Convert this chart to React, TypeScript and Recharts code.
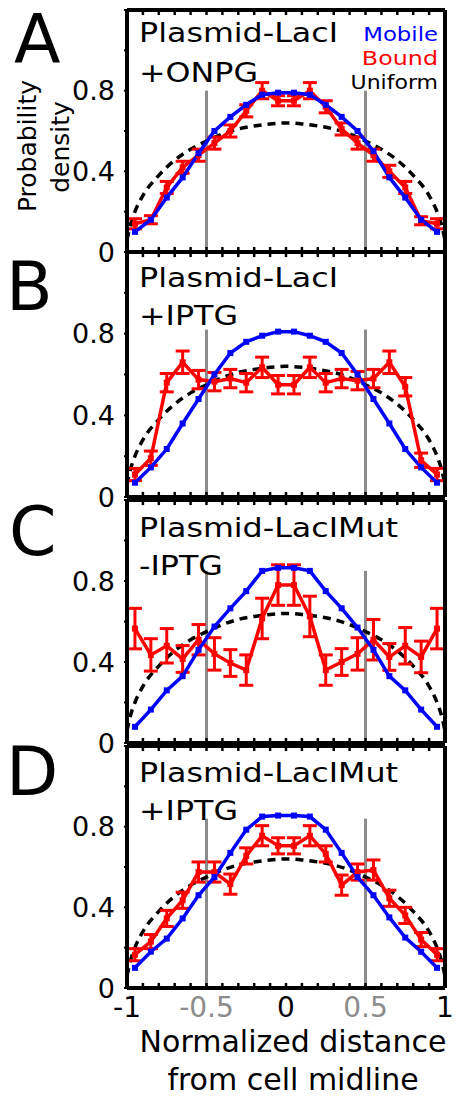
import React from 'react';
import { ComposedChart, Line, XAxis, YAxis, ErrorBar, ReferenceLine } from 'recharts';

const FONT = '"DejaVu Sans", Verdana, sans-serif';

// bin centres along the normalized cell axis
const positions = [-0.95, -0.85, -0.75, -0.65, -0.55, -0.45, -0.35, -0.25, -0.15, -0.05, 0.05, 0.15, 0.25, 0.35, 0.45, 0.55, 0.65, 0.75, 0.85, 0.95];

// A: Plasmid-LacI +ONPG
const mobileA = [0.10, 0.16, 0.27, 0.37, 0.49, 0.60, 0.67, 0.73, 0.78, 0.79, 0.79, 0.78, 0.73, 0.67, 0.60, 0.50, 0.37, 0.27, 0.16, 0.10];
const boundA = [0.14, 0.16, 0.32, 0.42, 0.48, 0.54, 0.60, 0.70, 0.80, 0.75, 0.75, 0.80, 0.72, 0.61, 0.54, 0.48, 0.40, 0.32, 0.155, 0.14];
const errA = [0.025, 0.02, 0.03, 0.03, 0.03, 0.03, 0.03, 0.03, 0.04, 0.025, 0.025, 0.04, 0.03, 0.03, 0.03, 0.03, 0.03, 0.03, 0.02, 0.025];

// B: Plasmid-LacI +IPTG
const mobileB = [0.07, 0.145, 0.235, 0.36, 0.48, 0.60, 0.705, 0.76, 0.79, 0.81, 0.81, 0.79, 0.76, 0.705, 0.60, 0.48, 0.36, 0.235, 0.145, 0.07];
const boundB = [0.11, 0.19, 0.56, 0.66, 0.575, 0.565, 0.58, 0.56, 0.635, 0.55, 0.55, 0.635, 0.56, 0.58, 0.57, 0.58, 0.66, 0.54, 0.18, 0.11];
const errB = [0.03, 0.035, 0.045, 0.055, 0.045, 0.045, 0.045, 0.045, 0.05, 0.045, 0.045, 0.05, 0.045, 0.045, 0.045, 0.045, 0.055, 0.045, 0.035, 0.03];

// C: Plasmid-LacIMut -IPTG
const mobileC = [0.08, 0.165, 0.26, 0.33, 0.46, 0.575, 0.665, 0.75, 0.85, 0.865, 0.865, 0.85, 0.75, 0.665, 0.57, 0.46, 0.33, 0.26, 0.165, 0.08];
const boundC = [0.565, 0.435, 0.48, 0.415, 0.51, 0.44, 0.395, 0.36, 0.615, 0.78, 0.78, 0.625, 0.36, 0.40, 0.44, 0.51, 0.425, 0.48, 0.425, 0.565];
const errC = [0.1, 0.08, 0.085, 0.066, 0.075, 0.08, 0.066, 0.075, 0.1, 0.1, 0.1, 0.1, 0.075, 0.066, 0.08, 0.1, 0.066, 0.09, 0.078, 0.1];

// D: Plasmid-LacIMut +IPTG
const mobileD = [0.10, 0.18, 0.245, 0.345, 0.46, 0.55, 0.67, 0.785, 0.85, 0.855, 0.855, 0.85, 0.785, 0.67, 0.55, 0.46, 0.35, 0.25, 0.18, 0.10];
const boundD = [0.165, 0.23, 0.345, 0.435, 0.575, 0.575, 0.515, 0.655, 0.755, 0.705, 0.705, 0.755, 0.665, 0.51, 0.575, 0.585, 0.445, 0.36, 0.24, 0.165];
const errD = [0.03, 0.035, 0.04, 0.04, 0.05, 0.05, 0.05, 0.04, 0.05, 0.04, 0.04, 0.05, 0.04, 0.05, 0.04, 0.05, 0.04, 0.04, 0.035, 0.03];

// uniform reference curve (same in every panel)
const uniformX = [-1, -0.98, -0.95, -0.9, -0.8, -0.7, -0.6, -0.5, -0.4, -0.3, -0.2, -0.1, 0, 0.1, 0.2, 0.3, 0.4, 0.5, 0.6, 0.7, 0.8, 0.9, 0.95, 0.98, 1];
const uniformY = [0.06, 0.13, 0.2, 0.28, 0.38, 0.455, 0.51, 0.55, 0.585, 0.61, 0.625, 0.635, 0.64, 0.635, 0.625, 0.61, 0.585, 0.55, 0.51, 0.455, 0.38, 0.28, 0.2, 0.13, 0.06];

// grey guide lines at +-0.5, height per panel
const guideX = [-0.5, 0.5];
const guideTops = [0.8, 0.82, 0.85, 0.84];

const xTicks = [-1, -0.9, -0.8, -0.7, -0.6, -0.5, -0.4, -0.3, -0.2, -0.1, 0, 0.1, 0.2, 0.3, 0.4, 0.5, 0.6, 0.7, 0.8, 0.9, 1];
const xLabels = [-1, -0.5, 0, 0.5, 1];
const yTicks = [0, 0.2, 0.4, 0.6, 0.8, 1, 1.2];
const yLabels = [0, 0.4, 0.8];

const panelLetters = ['A', 'B', 'C', 'D'];
const panelNotes = [
  ['Plasmid-LacI', '+ONPG'],
  ['Plasmid-LacI', '+IPTG'],
  ['Plasmid-LacIMut', '-IPTG'],
  ['Plasmid-LacIMut', '+IPTG'],
];
const legendItems = ['Mobile', 'Bound', 'Uniform'];

const panels = [
  { top: 10, bottom: 252, mobile: mobileA, bound: boundA, err: errA, guide: guideTops[0] },
  { top: 252, bottom: 497, mobile: mobileB, bound: boundB, err: errB, guide: guideTops[1] },
  { top: 500, bottom: 743, mobile: mobileC, bound: boundC, err: errC, guide: guideTops[2] },
  { top: 746, bottom: 988, mobile: mobileD, bound: boundD, err: errD, guide: guideTops[3] },
];

const frame = { stroke: '#000', strokeWidth: 4 };
const tickLn = { stroke: '#000', strokeWidth: 2 };

const Square = (color: string) => (props: any) => {
  const { cx, cy } = props;
  if (cx == null || cy == null) return null;
  return <rect x={cx - 3} y={cy - 3} width={6} height={6} fill={color} />;
};

const YLabel = (props: any) => {
  const { x, y, payload } = props;
  if (!yLabels.includes(payload.value)) return <g />;
  return (
    <text x={x} y={y} textAnchor="end" dominantBaseline="central" fontSize={27} fontFamily={FONT} fill="#000">
      {payload.value === 0 ? '0' : payload.value.toFixed(1)}
    </text>
  );
};

const XLabel = (props: any) => {
  const { x, y, payload } = props;
  const v = payload.value;
  if (!xLabels.includes(v)) return <g />;
  return (
    <text x={x} y={y + 27} textAnchor="middle" fontSize={28} fontFamily={FONT} fill={Math.abs(v) === 0.5 ? '#8c8c8c' : '#000'}>
      {String(v)}
    </text>
  );
};

function Panel({ p, showX }: { p: any; showX: boolean }) {
  const data = positions.map((x, i) => ({ x, mobile: p.mobile[i], bound: p.bound[i], err: p.err[i] }));
  const uniform = uniformX.map((x, i) => ({ x, uniform: uniformY[i] }));
  const bottomH = showX ? 100 : 2;
  const extra = showX ? 0 : 20;
  const h = p.bottom - p.top + 10 + bottomH + extra;
  return (
    <div style={{ position: 'absolute', left: 0, top: p.top - 10 }}>
      <ComposedChart width={458} height={h} data={data} margin={{ top: 8, right: 11, bottom: extra, left: 0 }}>
        <XAxis xAxisId="b" dataKey="x" type="number" domain={[-1, 1]} ticks={xTicks} interval={0}
          orientation="bottom" height={bottomH} tickSize={2} tickMargin={0} tickLine={false} axisLine={frame}
          tick={showX ? <XLabel /> : false} />
        <XAxis xAxisId="t" dataKey="x" type="number" domain={[-1, 1]} ticks={xTicks} interval={0}
          orientation="top" height={2} tick={false} tickLine={false} axisLine={frame} />
        <YAxis yAxisId="l" type="number" domain={[0, 1.2]} ticks={yTicks} interval={0} width={127}
          tickSize={3} tickMargin={9} tickLine={tickLn} axisLine={frame} tick={<YLabel />} />
        <YAxis yAxisId="r" orientation="right" type="number" domain={[0, 1.2]} ticks={yTicks} interval={0} width={2}
          tickSize={3} tickLine={tickLn} axisLine={frame} tick={false} />

        {guideX.map((gx) => (
          <ReferenceLine key={gx} xAxisId="b" yAxisId="l" segment={[{ x: gx, y: 0 }, { x: gx, y: p.guide }]}
            stroke="#8c8c8c" strokeWidth={3} />
        ))}
        {xTicks.map((tx) => (
          <ReferenceLine key={`tb${tx}`} xAxisId="b" yAxisId="l" segment={[{ x: tx, y: 0 }, { x: tx, y: 0.025 }]}
            stroke="#000" strokeWidth={2.5} />
        ))}
        {xTicks.map((tx) => (
          <ReferenceLine key={`tt${tx}`} xAxisId="b" yAxisId="l" segment={[{ x: tx, y: 1.175 }, { x: tx, y: 1.2 }]}
            stroke="#000" strokeWidth={2.5} />
        ))}

        <Line xAxisId="b" yAxisId="l" data={uniform} dataKey="uniform" type="monotone" stroke="#000"
          strokeWidth={3.5} strokeDasharray="8 6" dot={false} isAnimationActive={false} />
        <Line xAxisId="b" yAxisId="l" dataKey="bound" type="linear" stroke="#ff0000"
          strokeWidth={3.5} dot={Square('#ff0000')} isAnimationActive={false}>
          <ErrorBar dataKey="err" direction="y" width={7} stroke="#ff0000" strokeWidth={3} isAnimationActive={false} />
        </Line>
        <Line xAxisId="b" yAxisId="l" dataKey="mobile" type="linear" stroke="#0000ff"
          strokeWidth={3.5} dot={Square('#0000ff')} isAnimationActive={false} />
      </ComposedChart>
    </div>
  );
}

const letterX = [14, 6, 9, 6];
const letterBase = [63, 310, 555, 795];
const noteBase = [[42, 82], [287, 325], [537, 575], [782, 820]];
const noteStretch = 1.22;
const legendColors = ['#0000ff', '#ff0000', '#000'];
const legendStretch = [1.14, 1.19, 1.1];

export default function App() {
  return (
    <div style={{ position: 'absolute', left: 0, top: 0, width: 458, height: 1097, background: '#fff' }}>
      {panels.map((p, i) => (
        <Panel key={i} p={p} showX={i === panels.length - 1} />
      ))}
      <svg width={458} height={1097} style={{ position: 'absolute', left: 0, top: 0, pointerEvents: 'none' }} fontFamily={FONT}>
        {panelLetters.map((l, i) => (
          <text key={l} x={letterX[i]} y={letterBase[i]} fontSize={68} fill="#000">{l}</text>
        ))}
        {panelNotes.map((lines, i) => lines.map((t, j) => (
          <text key={`${i}-${j}`} transform={`translate(139 ${noteBase[i][j]}) scale(${noteStretch} 1)`}
            fontSize={26} fill="#000">{t}</text>
        )))}
        {legendItems.map((t, i) => (
          <text key={t} transform={`translate(438 ${41 + i * 24}) scale(${legendStretch[i]} 1)`}
            fontSize={20} textAnchor="end" fill={legendColors[i]}>{t}</text>
        ))}
        <text transform="rotate(-90 36 146)" x={36} y={146} fontSize={25} textAnchor="middle" fill="#000">Probability</text>
        <text transform="rotate(-90 69 147)" x={69} y={147} fontSize={25} textAnchor="middle" fill="#000">density</text>
        <text x={293} y={1052} fontSize={30} textAnchor="middle" fill="#000">Normalized distance</text>
        <text x={293} y={1090} fontSize={30} textAnchor="middle" fill="#000">from cell midline</text>
      </svg>
    </div>
  );
}
